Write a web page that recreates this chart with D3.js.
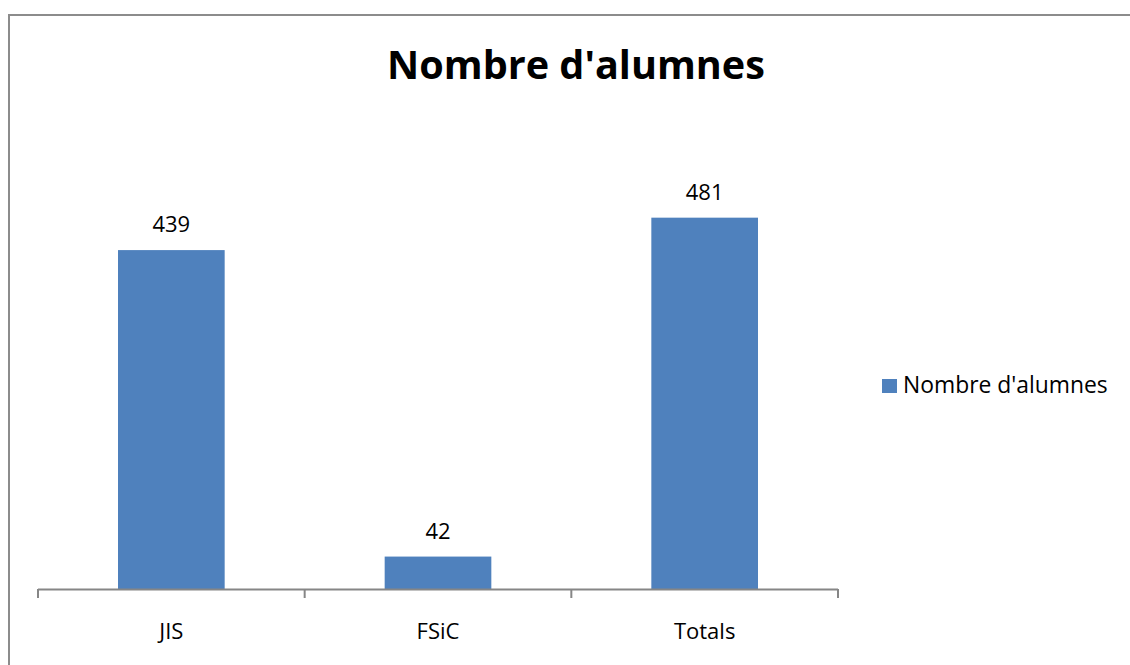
<!DOCTYPE html>
<html><head><meta charset="utf-8">
<script src="https://cdn.jsdelivr.net/npm/d3@7"></script>
<style>body{margin:0;background:#fff}svg{display:block}</style>
</head><body>
<script>
const title = "Nombre d'alumnes";
const seriesName = "Nombre d'alumnes";
const categories = ["JIS", "FSiC", "Totals"];
const values = [439, 42, 481];
const yMax = 500;

const W = 1130, H = 665;
const font = "'Open Sans', 'Liberation Sans', sans-serif";
const svg = d3.select("body").append("svg").attr("width", W).attr("height", H);
svg.append("rect").attr("width", W).attr("height", H).attr("fill", "#fff");

// chart border (left and top visible)
svg.append("path").attr("d", `M9,${H+5} V15 H${W+5}`).attr("fill", "none")
  .attr("stroke", "#8c8c8c").attr("stroke-width", 2);

const x = d3.scaleBand().domain(categories).range([38, 838]).paddingInner(0.6).paddingOuter(0.3);
const y = d3.scaleLinear().domain([0, yMax]).range([589, 203]);

// bars
svg.selectAll("rect.bar").data(values).join("rect").attr("class", "bar")
  .attr("x", (d, i) => x(categories[i])).attr("width", x.bandwidth())
  .attr("y", d => y(d)).attr("height", d => y(0) - y(d)).attr("fill", "#4F81BD");

// value labels
svg.selectAll("text.val").data(values).join("text").attr("class", "val")
  .attr("x", (d, i) => x(categories[i]) + x.bandwidth() / 2)
  .attr("y", d => y(d) - 18).attr("text-anchor", "middle")
  .attr("font-family", font).attr("font-size", 22).attr("fill", "#000").text(d => d);

// axis
const axisScale = d3.scalePoint().domain(d3.range(categories.length + 1)).range([38, 838]);
const g = svg.append("g");
g.append("line").attr("x1", 38).attr("x2", 838).attr("y1", 589.5).attr("y2", 589.5)
  .attr("stroke", "#868686").attr("stroke-width", 2);
g.selectAll("line.tick").data(axisScale.domain()).join("line").attr("class", "tick")
  .attr("x1", d => axisScale(d)).attr("x2", d => axisScale(d))
  .attr("y1", 589).attr("y2", 598).attr("stroke", "#868686").attr("stroke-width", 2);
g.selectAll("text.cat").data(categories).join("text").attr("class", "cat")
  .attr("x", d => x(d) + x.bandwidth() / 2).attr("y", 639).attr("text-anchor", "middle")
  .attr("font-family", font).attr("font-size", 22).attr("fill", "#000").text(d => d);

// title
const t = svg.append("text").attr("x", 576).attr("y", 79).attr("text-anchor", "middle")
  .attr("font-family", font).attr("font-weight", "bold").attr("font-size", 40)
  .attr("fill", "#000").text(title);
const tw = t.node().getComputedTextLength();
t.attr("font-size", 40 * 378 / tw);

// legend
svg.append("rect").attr("x", 882).attr("y", 379).attr("width", 15).attr("height", 14).attr("fill", "#4F81BD");
const lt = svg.append("text").attr("x", 903).attr("y", 393).attr("font-family", font)
  .attr("font-size", 21).attr("fill", "#000").text(seriesName);
const lw = lt.node().getComputedTextLength();
lt.attr("font-size", 21 * 205 / lw);
</script>
</body></html>
